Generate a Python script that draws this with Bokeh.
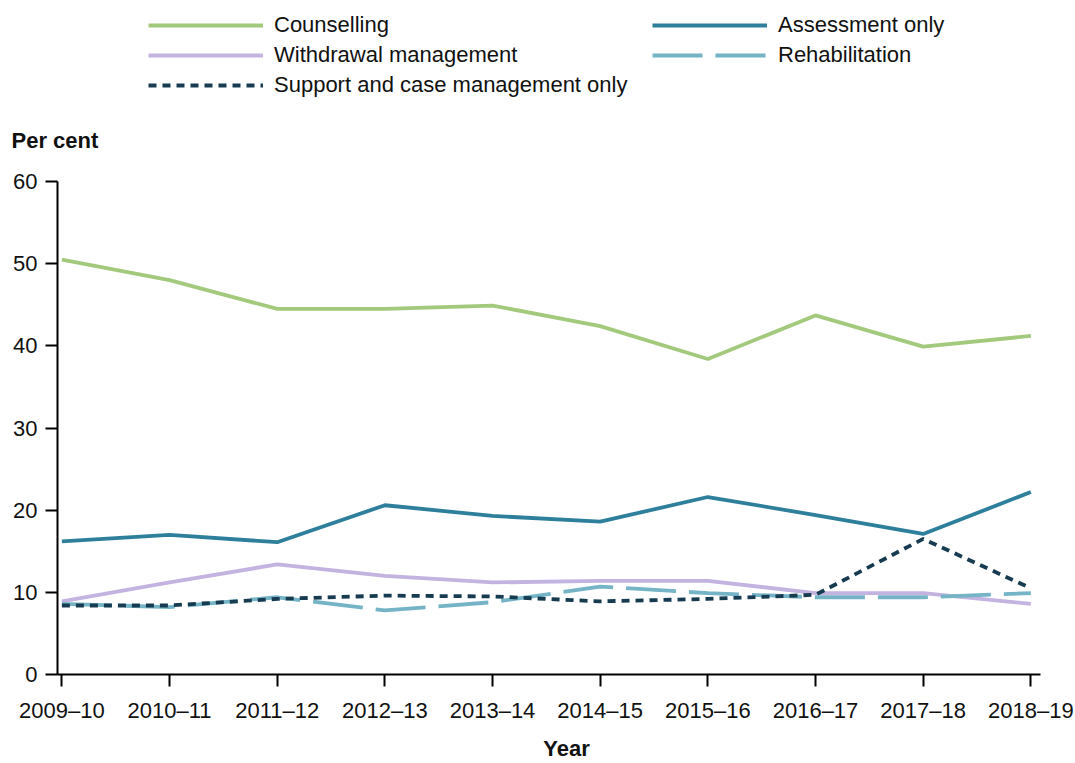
from bokeh.plotting import figure
from bokeh.layouts import column
from bokeh.models import Range1d, FixedTicker, Legend, LegendItem, Title
from bokeh.embed import file_html
from bokeh.resources import INLINE

years = ["2009–10", "2010–11", "2011–12", "2012–13", "2013–14",
         "2014–15", "2015–16", "2016–17", "2017–18", "2018–19"]
counselling = [50.5, 48.0, 44.5, 44.5, 44.9, 42.4, 38.4, 43.7, 39.9, 41.2]
assessment = [16.2, 17.0, 16.1, 20.6, 19.3, 18.6, 21.6, 19.4, 17.1, 22.2]
withdrawal = [8.9, 11.2, 13.4, 12.0, 11.2, 11.4, 11.4, 9.9, 9.9, 8.6]
rehabilitation = [8.6, 8.2, 9.4, 7.8, 8.8, 10.7, 9.9, 9.4, 9.4, 9.9]
support = [8.4, 8.4, 9.2, 9.6, 9.5, 8.9, 9.2, 9.7, 16.5, 10.5]
y_ticks = [0, 10, 20, 30, 40, 50, 60]

FONT = "Liberation Sans"
TXT = "#111111"
W = 3.8
SERIES = [
    ("Counselling", counselling, dict(line_color="#a3c97d", line_width=W)),
    ("Assessment only", assessment, dict(line_color="#2e7f9b", line_width=W)),
    ("Withdrawal management", withdrawal, dict(line_color="#c3b3e0", line_width=W)),
    ("Rehabilitation", rehabilitation, dict(line_color="#74b4c6", line_width=W, line_dash="50 13")),
    ("Support and case management only", support, dict(line_color="#173c52", line_width=W, line_dash="8 6")),
]
xs = list(range(len(years)))

H1 = 97
# ---------------- header: legend ----------------
top = figure(width=1075, height=H1, output_backend="svg", toolbar_location=None,
             x_range=Range1d(0, 1018), y_range=Range1d(1000, 1000 + H1),
             x_axis_location=None, y_axis_location=None,
             min_border_left=0, min_border_right=0, min_border_top=0,
             min_border_bottom=0, title=None)
top.outline_line_color = None
for g in top.grid:
    g.visible = False

# same series drawn in the header (outside its visible range) to carry the legend
proxy = {name: top.line(xs, vals, **st) for name, vals, st in SERIES}

def mk_legend(names, loc):
    return Legend(items=[LegendItem(label=n, renderers=[proxy[n]]) for n in names],
                  location=loc, orientation="vertical",
                  glyph_width=115, glyph_height=26, label_height=26,
                  label_standoff=11, spacing=4, padding=0, margin=0,
                  border_line_alpha=0, background_fill_alpha=0,
                  label_text_font=FONT, label_text_font_size="22px",
                  label_text_color=TXT)

top.add_layout(mk_legend(["Counselling", "Withdrawal management",
                          "Support and case management only"], (91, -1)), "center")
top.add_layout(mk_legend(["Assessment only", "Rehabilitation"], (595, 29)), "center")

# ---------------- main chart ----------------
p = figure(width=1075, height=763 - H1, output_backend="svg", toolbar_location=None,
           x_range=Range1d(-0.0409, 9.4149), y_range=Range1d(0, 60),
           min_border_left=57, min_border_right=0, min_border_top=82,
           min_border_bottom=89, title=None)
p.outline_line_color = None
p.xgrid.grid_line_color = None
p.ygrid.grid_line_color = None

p.add_layout(Title(text="Per cent", align="left", offset=-46, standoff=57,
                   vertical_align="bottom",
                   text_font=FONT, text_font_size="22px", text_font_style="bold",
                   text_color=TXT), "above")

for ax in (p.xaxis[0], p.yaxis[0]):
    ax.axis_line_width = 2
    ax.axis_line_color = "#000000"
    ax.major_tick_line_width = 2
    ax.major_tick_line_color = "#000000"
    ax.major_tick_in = 0
    ax.minor_tick_line_color = None
    ax.major_label_text_font = FONT
    ax.major_label_text_font_size = "22px"
    ax.major_label_text_color = TXT

p.xaxis.ticker = FixedTicker(ticks=xs)
p.xaxis.bounds = (-0.0409, 9.0895)
p.xaxis.major_label_overrides = {i: y for i, y in enumerate(years)}
p.xaxis.major_tick_out = 12
p.xaxis.major_label_standoff = 11
p.xaxis.axis_label = "Year"
p.xaxis.axis_label_text_font = FONT
p.xaxis.axis_label_text_font_size = "22px"
p.xaxis.axis_label_text_font_style = "bold"
p.xaxis.axis_label_text_color = TXT
p.xaxis.axis_label_standoff = 10

p.yaxis.ticker = FixedTicker(ticks=y_ticks)
p.yaxis.major_tick_out = 12
p.yaxis.major_label_standoff = 8

for name, vals, st in SERIES:
    p.line(xs, vals, **st)

layout = column(top, p, spacing=0)
open("out.html", "w").write(file_html(layout, INLINE))
